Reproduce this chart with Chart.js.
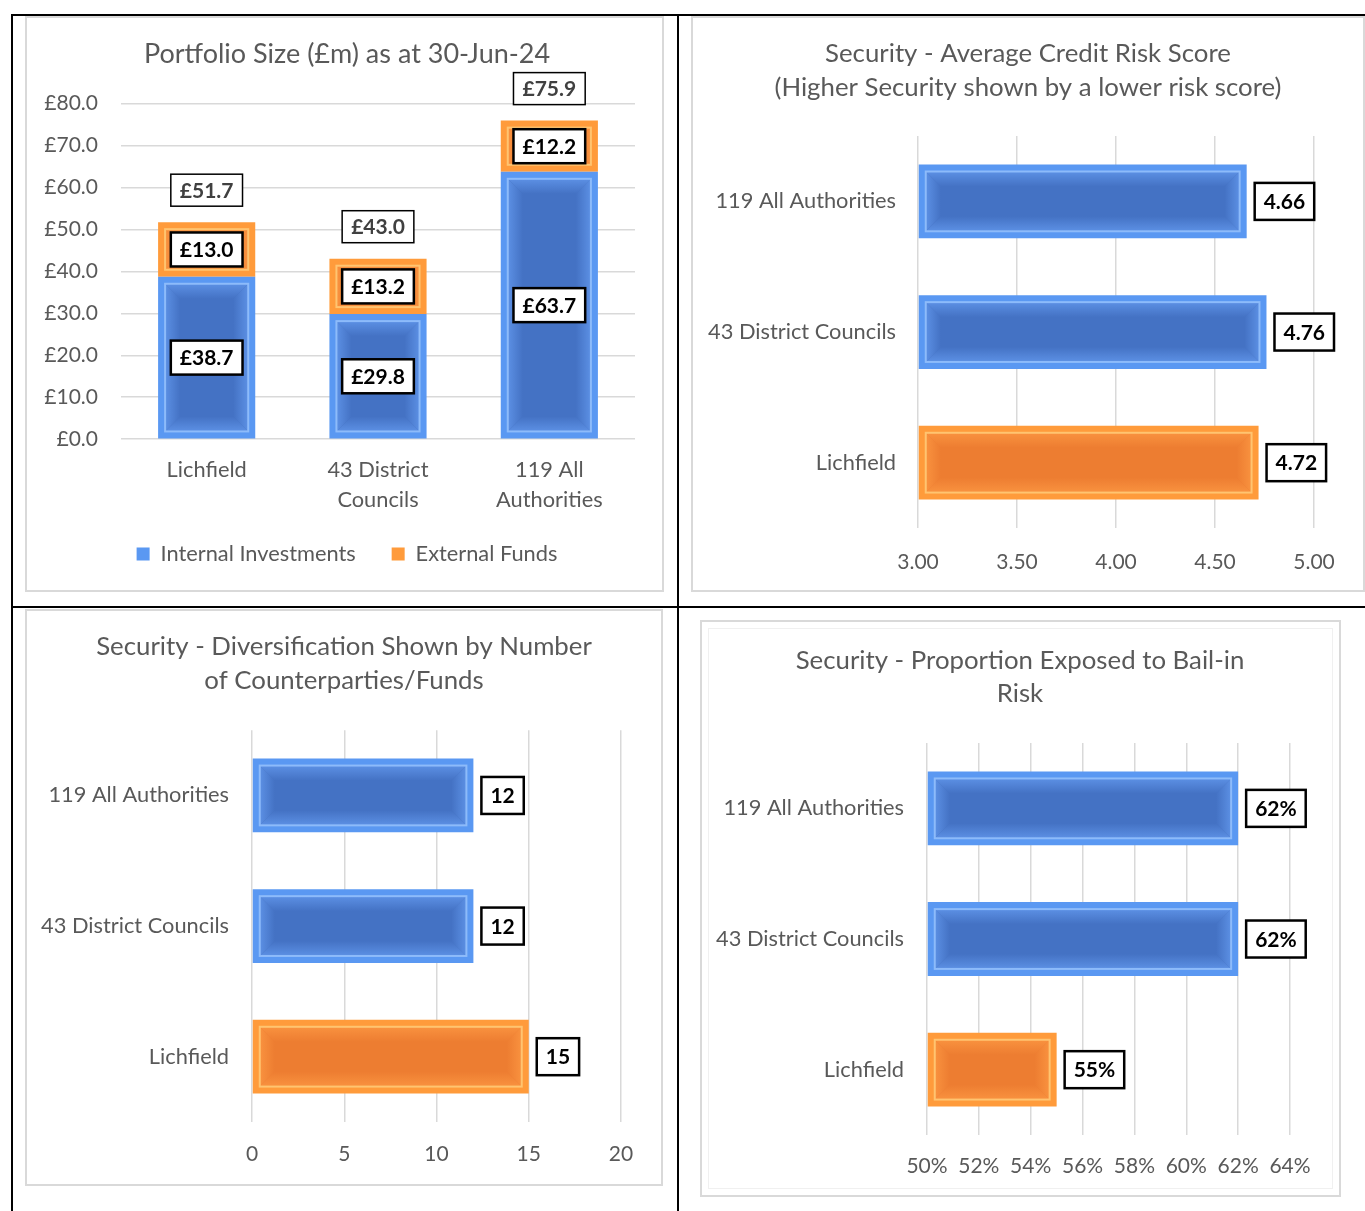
<!DOCTYPE html>
<html><head><meta charset="utf-8">
<script src="https://cdn.jsdelivr.net/npm/chart.js@4.4.1/dist/chart.umd.min.js"></script>
<style>
body{margin:0;background:#fff;width:1365px;height:1211px;overflow:hidden;position:relative}
.line{position:absolute;background:#000}
.box{position:absolute;border:2px solid #d9d9d9;box-sizing:border-box}
canvas{position:absolute}
</style></head><body>
<div class="box" style="left:25px;top:16px;width:639px;height:576px"></div>
<div class="box" style="left:691px;top:16px;width:674px;height:576px"></div>
<div class="box" style="left:25px;top:609px;width:638px;height:577px"></div>
<div class="box" style="left:700px;top:620px;width:641px;height:577px"></div>
<div class="box" style="left:708px;top:628px;width:625px;height:561px;border-width:1px;border-color:#f0f0f0"></div>
<div class="line" style="left:11px;top:14px;width:1354px;height:2px"></div>
<div class="line" style="left:11px;top:14px;width:2px;height:1197px"></div>
<div class="line" style="left:677px;top:14px;width:2px;height:1197px"></div>
<div class="line" style="left:11px;top:606px;width:1354px;height:2px"></div>

<canvas id="c1" width="640" height="572" style="left:27px;top:18px"></canvas>
<canvas id="c2" width="670" height="572" style="left:693px;top:18px"></canvas>
<canvas id="c3" width="634" height="573" style="left:27px;top:611px"></canvas>
<canvas id="c4" width="636" height="573" style="left:702px;top:622px"></canvas>
<script>
// ---------- DATA ----------
const portfolioCategories = [['Lichfield'], ['43 District', 'Councils'], ['119 All', 'Authorities']];
const internalInvestments = [38.7, 29.8, 63.7];
const externalFunds = [13.0, 13.2, 12.2];
const portfolioTotals = [51.7, 43.0, 75.9];

const compareCategories = ['119 All Authorities', '43 District Councils', 'Lichfield'];
const creditRiskScores = [4.66, 4.76, 4.72];
const counterpartyCounts = [12, 12, 15];
const bailInPercent = [62, 62, 55];

// ---------- STYLE ----------
const FONT = 'Lato';
const GREY = '#595959';
const GRID = '#d9d9d9';
const BLUE = {rim: '#5A98F2', dark: '#4472C4', bevel: '#5C90E4', line: '#8DBBFA'};
const ORANGE = {rim: '#FF9B3B', dark: '#ED7D31', bevel: '#F9923F', line: '#FFC470'};
const TEXT_SIZE = 21.8, NUM_SIZE = 21, LABEL_SIZE = 21;

function scheme(el) {
  return el.options.backgroundColor === ORANGE.rim ? ORANGE : BLUE;
}

function bevel(ctx, L, T, R, B, s) {
  const r = 7;
  const iL = L + r, iT = T + r, iR = R - r, iB = B - r;
  if (iR - iL < 4 || iB - iT < 4) return;
  ctx.save();
  ctx.fillStyle = s.dark;
  ctx.fillRect(iL, iT, iR - iL, iB - iT);
  const bw = Math.min(15, (iR - iL) / 2, (iB - iT) / 2);
  const trap = (pts, x0, y0, x1, y1) => {
    const g = ctx.createLinearGradient(x0, y0, x1, y1);
    g.addColorStop(0, s.bevel);
    g.addColorStop(1, s.dark);
    ctx.fillStyle = g;
    ctx.beginPath();
    ctx.moveTo(pts[0][0], pts[0][1]);
    for (let k = 1; k < pts.length; k++) ctx.lineTo(pts[k][0], pts[k][1]);
    ctx.closePath();
    ctx.fill();
  };
  trap([[iL, iT], [iR, iT], [iR - bw, iT + bw], [iL + bw, iT + bw]], 0, iT, 0, iT + bw);
  trap([[iL, iB], [iR, iB], [iR - bw, iB - bw], [iL + bw, iB - bw]], 0, iB, 0, iB - bw);
  trap([[iL, iT], [iL + bw, iT + bw], [iL + bw, iB - bw], [iL, iB]], iL, 0, iL + bw, 0);
  trap([[iR, iT], [iR - bw, iT + bw], [iR - bw, iB - bw], [iR, iB]], iR, 0, iR - bw, 0);
  ctx.strokeStyle = s.line;
  ctx.lineWidth = 2;
  ctx.strokeRect(iL, iT, iR - iL, iB - iT);
  ctx.restore();
}

function labelBox(ctx, text, cx, cy, opt) {
  ctx.save();
  ctx.font = 'bold ' + LABEL_SIZE + 'px ' + FONT;
  const w = ctx.measureText(text).width + 18;
  const h = opt.h || 34;
  const x = opt.left !== undefined ? opt.left : cx - w / 2;
  ctx.fillStyle = '#fff';
  ctx.fillRect(x, cy - h / 2, w, h);
  ctx.lineWidth = opt.lw || 2.5;
  ctx.strokeStyle = '#000';
  ctx.strokeRect(x, cy - h / 2, w, h);
  ctx.fillStyle = opt.color || '#000';
  ctx.textAlign = 'center';
  ctx.textBaseline = 'middle';
  ctx.fillText(text, x + w / 2, cy + 1);
  ctx.restore();
}

function makePlugin(drawLabels) {
  return {
    id: 'bevelLabels',
    afterDatasetsDraw(chart) {
      const ctx = chart.ctx;
      const horiz = chart.options.indexAxis === 'y';
      chart.data.datasets.forEach((ds, i) => {
        chart.getDatasetMeta(i).data.forEach(el => {
          const p = el.getProps(['x', 'y', 'base', 'width', 'height'], true);
          let L, T, R, B;
          if (horiz) { L = Math.min(p.base, p.x); R = Math.max(p.base, p.x); T = p.y - p.height / 2; B = p.y + p.height / 2; }
          else { T = Math.min(p.base, p.y); B = Math.max(p.base, p.y); L = p.x - p.width / 2; R = p.x + p.width / 2; }
          bevel(ctx, L, T, R, B, scheme(el));
        });
      });
      drawLabels(chart);
    }
  };
}

// invisible spacer axis on the right so title/legend centre like the original
function spacer(type, w) {
  return {type: type, position: 'right', display: true, grid: {display: false}, border: {display: false},
    ticks: {display: false}, afterFit(s) { s.width = w; }};
}

function barColors(cats) { return cats.map(c => c === 'Lichfield' ? ORANGE.rim : BLUE.rim); }

// ---------- CHART 1 ----------
new Chart(document.getElementById('c1'), {
  type: 'bar',
  data: {
    labels: portfolioCategories,
    datasets: [
      {label: 'Internal Investments', data: internalInvestments, backgroundColor: BLUE.rim, barPercentage: 0.567, categoryPercentage: 1, xAxisID: 'x', yAxisID: 'y'},
      {label: 'External Funds', data: externalFunds, backgroundColor: ORANGE.rim, barPercentage: 0.567, categoryPercentage: 1, xAxisID: 'x', yAxisID: 'y'}
    ]
  },
  plugins: [makePlugin(chart => {
    const ctx = chart.ctx;
    [0, 1].forEach(i => {
      chart.getDatasetMeta(i).data.forEach((el, j) => {
        const v = chart.data.datasets[i].data[j];
        labelBox(ctx, '£' + v.toFixed(1), el.x, (el.y + el.base) / 2, {});
      });
    });
    chart.getDatasetMeta(1).data.forEach((el, j) => {
      labelBox(ctx, '£' + portfolioTotals[j].toFixed(1), el.x, el.y - 32, {lw: 1.5, color: '#404040', h: 32});
    });
  })],
  options: {
    responsive: false, animation: false, devicePixelRatio: 1,
    layout: {padding: {left: 0, right: 0, top: 0, bottom: 15}},
    plugins: {
      tooltip: {enabled: false},
      title: {display: true, text: 'Portfolio Size (£m) as at 30-Jun-24', color: GREY,
        font: {family: FONT, size: 27, weight: 'normal', lineHeight: 1.2}, padding: {top: 20, bottom: 33}},
      legend: {position: 'bottom', labels: {color: GREY, font: {family: FONT, size: TEXT_SIZE}, boxWidth: 13, boxHeight: 13, padding: 36,
        generateLabels(chart) {
          return chart.data.datasets.map((d, i) => ({text: d.label, fillStyle: d.backgroundColor, strokeStyle: d.backgroundColor, lineWidth: 0, datasetIndex: i, fontColor: GREY}));
        }}}
    },
    scales: {
      x: {stacked: true, grid: {display: false}, border: {display: false},
        ticks: {color: GREY, font: {family: FONT, size: TEXT_SIZE, lineHeight: 1.37}, padding: 8, maxRotation: 0, autoSkip: false},
        afterFit(s) { s.height = 68; }},
      y: {stacked: true, min: 0, max: 80, border: {display: false},
        grid: {color: GRID, lineWidth: 1.5, drawTicks: false},
        ticks: {stepSize: 10, color: GREY, font: {family: FONT, size: NUM_SIZE}, padding: 23, callback: v => '£' + Number(v).toFixed(1)},
        afterFit(s) { s.width = 94; }},
      yR: spacer('linear', 32)
    }
  }
});

// ---------- HORIZONTAL CHARTS ----------
function hbar(id, title, values, opt) {
  return new Chart(document.getElementById(id), {
    type: 'bar',
    data: {
      labels: compareCategories,
      datasets: [{data: values, backgroundColor: barColors(compareCategories), base: opt.min, barPercentage: 0.565, categoryPercentage: 1, xAxisID: 'x', yAxisID: 'y'}]
    },
    plugins: [makePlugin(chart => {
      chart.getDatasetMeta(0).data.forEach((el, j) => {
        labelBox(chart.ctx, opt.fmt(values[j]), 0, el.y, {left: el.x + 8, h: 37, lw: 2.5});
      });
    })],
    options: {
      indexAxis: 'y', responsive: false, animation: false, devicePixelRatio: 1,
      layout: {padding: {left: 0, right: 0, top: 0, bottom: 0}},
      plugins: {
        tooltip: {enabled: false}, legend: {display: false},
        title: {display: true, text: title, color: GREY,
          font: {family: FONT, size: 25.8, weight: 'normal', lineHeight: opt.titleLH}, padding: {top: opt.titleTop, bottom: opt.titleBottom}}
      },
      scales: {
        x: {min: opt.min, max: opt.max, border: {display: false},
          grid: {color: GRID, lineWidth: 1.5, drawTicks: false},
          ticks: {stepSize: opt.step, color: GREY, font: {family: FONT, size: NUM_SIZE}, padding: opt.tickPad, autoSkip: false, maxRotation: 0, callback: opt.tick},
          afterFit(s) { s.height = opt.xh; }},
        y: {grid: {display: false, drawTicks: false}, border: {display: false},
          ticks: {color: GREY, font: {family: FONT, size: TEXT_SIZE}, padding: opt.catPad, autoSkip: false},
          afterFit(s) { s.width = 225; }},
        yR: spacer('category', opt.right)
      }
    }
  });
}

hbar('c2', ['Security - Average Credit Risk Score', '(Higher Security shown by a lower risk score)'], creditRiskScores,
  {min: 3, max: 5, step: 0.5, tick: v => Number(v).toFixed(2), fmt: v => v.toFixed(2), right: 49, xh: 62, tickPad: 22, catPad: 22,
   titleLH: 1.3, titleTop: 19, titleBottom: 32});
hbar('c3', ['Security - Diversification Shown by Number', 'of Counterparties/Funds'], counterpartyCounts,
  {min: 0, max: 20, step: 5, tick: v => String(v), fmt: v => String(v), right: 40, xh: 62, tickPad: 20, catPad: 23,
   titleLH: 1.34, titleTop: 18, titleBottom: 32});
hbar('c4', ['Security - Proportion Exposed to Bail-in', 'Risk'], bailInPercent,
  {min: 50, max: 64, step: 2, tick: v => v + '%', fmt: v => v + '%', right: 48, xh: 60, tickPad: 19, catPad: 23,
   titleLH: 1.28, titleTop: 22, titleBottom: 33});
</script>
</body></html>
